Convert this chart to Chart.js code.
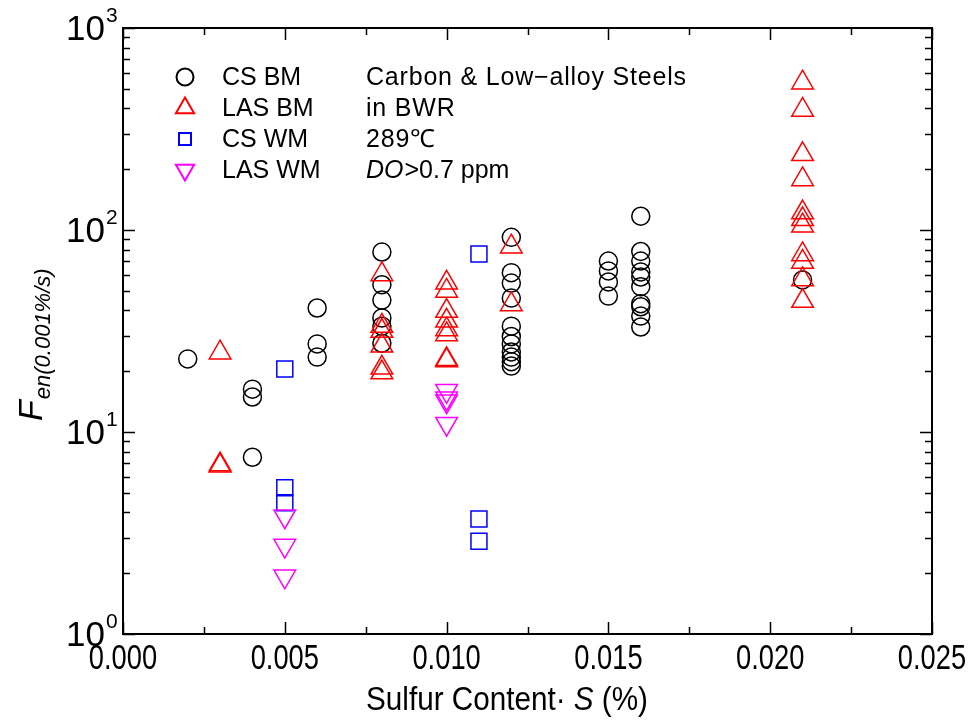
<!DOCTYPE html>
<html>
<head>
<meta charset="utf-8">
<script src="https://cdn.jsdelivr.net/npm/chart.js@4.4.1/dist/chart.umd.min.js"></script>
<style>
  html, body { margin: 0; padding: 0; background: #fff; }
  #wrap { width: 975px; height: 724px; }
</style>
</head>
<body>
<div id="wrap"><canvas id="fenChart" width="975" height="724"></canvas></div>
<script>
// Fen at 0.001 %/s vs. sulfur content, BWR water, 289 C
const csBmSulfur = [0.002, 0.004, 0.004, 0.004, 0.006, 0.006, 0.006,
  0.008, 0.008, 0.008, 0.008, 0.008, 0.008,
  0.012, 0.012, 0.012, 0.012, 0.012, 0.012, 0.012, 0.012, 0.012, 0.012, 0.012,
  0.015, 0.015, 0.015, 0.015,
  0.016, 0.016, 0.016, 0.016, 0.016, 0.016, 0.016, 0.016, 0.016, 0.016,
  0.021];
const csBmFen = [23.0, 16.3, 14.9, 7.5, 41.1, 27.3, 23.5,
  77.8, 53.6, 45.0, 36.7, 33.4, 27.5,
  92.0, 61.5, 54.6, 46.0, 33.4, 29.7, 27.3, 24.9, 23.5, 22.3, 21.2,
  70.2, 62.7, 55.3, 47.1,
  117, 78.3, 70.2, 62.0, 58.5, 52.4, 43.2, 41.7, 37.5, 33.1,
  56.6];

const lasBmSulfur = [0.003, 0.003, 0.003,
  0.008, 0.008, 0.008, 0.008, 0.008, 0.008,
  0.010, 0.010, 0.010, 0.010, 0.010, 0.010, 0.010, 0.010,
  0.012, 0.012,
  0.021, 0.021, 0.021, 0.021, 0.021, 0.021, 0.021, 0.021, 0.021, 0.021, 0.021];
const lasBmFen = [24.7, 6.9, 6.8,
  60.3, 33.5, 31.6, 26.7, 20.8, 19.7,
  54.8, 49.9, 39.7, 35.5, 32.2, 30.4, 22.9, 22.6,
  82.7, 42.8,
  536, 393, 237, 178, 122, 113, 105, 75.7, 69.5, 56.9, 44.5];

const csWmSulfur = [0.005, 0.005, 0.005, 0.011, 0.011, 0.011];
const csWmFen = [20.5, 5.30, 4.46, 76.1, 3.71, 2.88];

const lasWmSulfur = [0.005, 0.005, 0.005, 0.010, 0.010, 0.010, 0.010];
const lasWmFen = [3.83, 2.74, 1.93, 16.0, 14.7, 14.2, 11.0];

const xTicks = [0, 0.005, 0.010, 0.015, 0.020, 0.025];
const yExponents = [0, 1, 2, 3];
const noteLines = ['Carbon & Low\u2212alloy Steels', 'in BWR', '289\u2103'];

const FONT = '"Liberation Sans", Arial, sans-serif';

function points(xs, ys) {
  return xs.map((x, i) => ({ x, y: ys[i] }));
}

const datasets = [
  { label: 'CS BM', data: points(csBmSulfur, csBmFen), pointStyle: 'circle',
    pointRadius: 9, borderColor: '#000000', order: 4, legendRadius: 8.5 },
  { label: 'LAS BM', data: points(lasBmSulfur, lasBmFen), pointStyle: 'triangle',
    pointRadius: 12.5, borderColor: '#ff0000', order: 3, legendRadius: 10.5 },
  { label: 'CS WM', data: points(csWmSulfur, csWmFen), pointStyle: 'rect',
    pointRadius: 11.3, borderColor: '#0000ff', order: 2, legendRadius: 8.5 },
  { label: 'LAS WM', data: points(lasWmSulfur, lasWmFen), pointStyle: 'triangle',
    pointRotation: 180, pointRadius: 12.5, borderColor: '#ff00ff', order: 1, legendRadius: 10.5 }
].map(d => Object.assign({
  backgroundColor: 'rgba(0,0,0,0)',
  pointBorderWidth: 1.5,
  pointHoverRadius: d.pointRadius,
  showLine: false
}, d));

// frame, inward ticks, labels, legend and note text
const decorations = {
  id: 'decorations',
  afterDatasetsDraw(chart) {
    const { ctx, chartArea: a, scales: { x, y } } = chart;
    ctx.save();
    ctx.strokeStyle = '#000';
    ctx.fillStyle = '#000';

    // x ticks (major every 0.005, minor every 0.0025)
    ctx.lineWidth = 1.5;
    ctx.beginPath();
    for (let i = 0; i <= 10; i++) {
      const px = Math.round(x.getPixelForValue(i * 0.0025)) + 0.5;
      const len = i % 2 === 0 ? 12 : 7;
      ctx.moveTo(px, a.bottom); ctx.lineTo(px, a.bottom - len);
      ctx.moveTo(px, a.top); ctx.lineTo(px, a.top + len);
    }
    // y ticks on log scale
    for (let e = 0; e < 3; e++) {
      for (let m = 1; m <= 10; m++) {
        const py = Math.round(y.getPixelForValue(m * Math.pow(10, e))) + 0.5;
        const len = (m === 1 || m === 10) ? 12 : 7;
        ctx.moveTo(a.left, py); ctx.lineTo(a.left + len, py);
        ctx.moveTo(a.right, py); ctx.lineTo(a.right - len, py);
      }
    }
    ctx.stroke();

    ctx.lineWidth = 2;
    ctx.strokeRect(a.left, a.top, a.right - a.left, a.bottom - a.top);

    // x tick labels, slightly condensed
    ctx.font = '35px ' + FONT;
    ctx.textAlign = 'center';
    ctx.textBaseline = 'middle';
    xTicks.forEach(v => {
      const px = x.getPixelForValue(v);
      ctx.save();
      ctx.translate(px, 659);
      ctx.scale(0.78, 1);
      ctx.fillText(v.toFixed(3), 0, 0);
      ctx.restore();
    });

    // y tick labels as 10^n
    yExponents.forEach(n => {
      const py = y.getPixelForValue(Math.pow(10, n));
      ctx.textAlign = 'right';
      ctx.font = '35px ' + FONT;
      ctx.fillText('10', 105, py + 2);
      ctx.textAlign = 'left';
      ctx.font = '21px ' + FONT;
      ctx.fillText(String(n), 106, py - 12);
    });

    // x axis title
    const parts = [['Sulfur Content\u00b7 ', ''], ['S', 'italic '], [' (%)', '']];
    ctx.textAlign = 'left';
    ctx.textBaseline = 'alphabetic';
    let w = 0;
    parts.forEach(([t, s]) => { ctx.font = s + '33px ' + FONT; w += ctx.measureText(t).width; });
    const sx = 282 / w;
    ctx.save();
    ctx.translate(507 - 141, 710);
    ctx.scale(sx, 1);
    let cx = 0;
    parts.forEach(([t, s]) => {
      ctx.font = s + '33px ' + FONT;
      ctx.fillText(t, cx, 0);
      cx += ctx.measureText(t).width;
    });
    ctx.restore();

    // y axis title: F with italic subscript
    ctx.save();
    ctx.translate(42, 421);
    ctx.rotate(-Math.PI / 2);
    ctx.font = 'italic 34px ' + FONT;
    ctx.fillText('F', 0, 0);
    const fw = ctx.measureText('F').width;
    ctx.font = 'italic 22px ' + FONT;
    ctx.fillText('en(0.001%/s)', fw + 1, 8);
    ctx.restore();

    // legend
    const rows = [77, 108, 139, 170];
    chart.data.datasets.forEach((d, i) => {
      ctx.strokeStyle = d.borderColor;
      ctx.fillStyle = 'rgba(0,0,0,0)';
      Chart.helpers.drawPoint(ctx, {
        pointStyle: d.pointStyle,
        rotation: d.pointRotation || 0,
        radius: d.legendRadius,
        borderWidth: 1.5
      }, 185, rows[i]);
      ctx.fillStyle = '#000';
      ctx.font = '25px ' + FONT;
      ctx.textBaseline = 'middle';
      ctx.fillText(d.label, 222, rows[i] + 1);
    });

    // note text
    ctx.font = '25px ' + FONT;
    ctx.textBaseline = 'middle';
    ctx.letterSpacing = '0.8px';
    noteLines.forEach((t, i) => ctx.fillText(t, 366, rows[i] + 1));
    ctx.letterSpacing = '0px';
    ctx.font = 'italic 25px ' + FONT;
    ctx.fillText('DO', 366, rows[3] + 1);
    const dw = ctx.measureText('DO').width;
    ctx.font = '25px ' + FONT;
    ctx.fillText('>0.7 ppm', 366 + dw + 1, rows[3] + 1);

    ctx.restore();
  }
};

new Chart(document.getElementById('fenChart'), {
  type: 'scatter',
  data: { datasets },
  options: {
    responsive: false,
    animation: false,
    devicePixelRatio: 1,
    layout: { padding: { left: 123, top: 28, right: 43, bottom: 90 } },
    plugins: { legend: { display: false }, tooltip: { enabled: false } },
    scales: {
      x: { type: 'linear', min: 0, max: 0.025, display: false },
      y: { type: 'logarithmic', min: 1, max: 1000, display: false }
    }
  },
  plugins: [decorations]
});
</script>
</body>
</html>
